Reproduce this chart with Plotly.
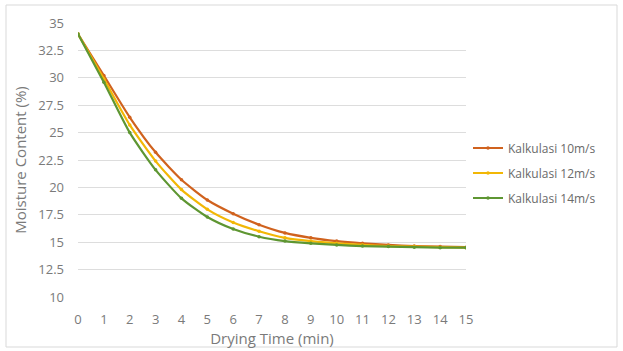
import plotly.graph_objects as go

# Drying time (min) and calculated moisture content (%) for three air speeds
drying_time = list(range(16))
kalkulasi_10 = [34.0, 30.2, 26.4, 23.2, 20.7, 18.85, 17.6, 16.6, 15.85, 15.4, 15.1, 14.9, 14.75, 14.65, 14.6, 14.55]
kalkulasi_12 = [34.0, 29.9, 25.7, 22.4, 19.8, 18.0, 16.8, 16.0, 15.4, 15.1, 14.9, 14.75, 14.65, 14.6, 14.55, 14.5]
kalkulasi_14 = [34.0, 29.6, 25.0, 21.6, 19.0, 17.3, 16.2, 15.5, 15.1, 14.9, 14.75, 14.65, 14.6, 14.55, 14.5, 14.5]

series_names = ["Kalkulasi 10m/s", "Kalkulasi 12m/s", "Kalkulasi 14m/s"]
series_colors = ["#D0621E", "#F2B705", "#5E9632"]
x_ticks = list(range(16))
y_ticks = [10, 12.5, 15, 17.5, 20, 22.5, 25, 27.5, 30, 32.5, 35]

fig = go.Figure()
for i, (name, vals, col) in enumerate(zip(series_names, [kalkulasi_10, kalkulasi_12, kalkulasi_14], series_colors)):
    fig.add_trace(go.Scatter(
        x=drying_time, y=vals, name=name, mode="lines+markers", legendgroup=f"g{i}",
        line=dict(color=col, width=2.2, shape="spline", smoothing=0.6),
        marker=dict(size=3.5, color=col),
    ))

font_family = "Open Sans, Liberation Sans, sans-serif"
grey = "#7a7a7a"

# plot area pixel geometry
L, R, T, B = 78, 466, 23, 297
W, H = R - L, B - T

fig.update_layout(
    width=623, height=351,
    margin=dict(l=L, r=623 - R, t=T, b=351 - B),
    paper_bgcolor="white", plot_bgcolor="white",
    font=dict(family=font_family, color=grey, size=12),
    showlegend=True,
    legend=dict(x=(468 - L) / W, xanchor="left", y=(B - 173) / H, yanchor="middle",
                font=dict(size=12, color="#6a6a6a"), tracegroupgap=6,
                bgcolor="rgba(0,0,0,0)"),
    xaxis=dict(range=[0, 15], tickvals=x_ticks, showgrid=False, zeroline=False,
               showline=False, ticks="", tickfont=dict(size=13, color=grey),
               ticklabelstandoff=13, automargin=False,
               title=dict(text="Drying Time (min)", font=dict(size=15, color=grey), standoff=6)),
    yaxis=dict(range=[10, 35], tickvals=y_ticks, ticktext=[f"{v:g}" for v in y_ticks],
               showgrid=True, gridcolor="#DDDDDD", gridwidth=1, zeroline=False,
               showline=False, ticks="", tickfont=dict(size=13, color=grey),
               ticklabelstandoff=13, automargin=False,
               title=dict(text="Moisture Content (%)", font=dict(size=15, color=grey), standoff=8)),
    shapes=[dict(type="rect", xref="paper", yref="paper",
                 x0=(6 - L) / W, x1=(617 - L) / W,
                 y0=(B - 347) / H, y1=(B - 5) / H,
                 line=dict(color="#D9D9D9", width=1), fillcolor="rgba(0,0,0,0)", layer="below")],
)

fig.write_html("out.html")
